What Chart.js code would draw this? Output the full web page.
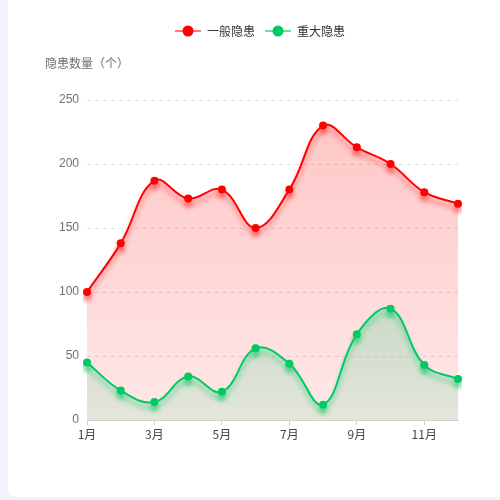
<!DOCTYPE html>
<html>
<head>
<meta charset="utf-8">
<script src="https://cdn.jsdelivr.net/npm/chart.js@4/dist/chart.umd.min.js"></script>
<style>
  html, body { margin: 0; padding: 0; background: #f2f3f8; }
  #card { position: absolute; left: 8px; top: 0; width: 492px; height: 497px; background: #fff; border-radius: 0 0 0 8px; }
</style>
</head>
<body>
<div id="card"><canvas id="canvas" width="492" height="497"></canvas></div>
<script>
// data
var months = ['1月','2月','3月','4月','5月','6月','7月','8月','9月','10月','11月','12月'];
var normal = [100, 138, 187, 173, 180, 150, 180, 230, 213, 200, 178, 169];
var major = [45, 23, 14, 34, 22, 56, 44, 12, 67, 87, 43, 32];
var yTitle = '隐患数量（个）';

// little legend icons: line with a dot
function legendIcon(lineColor, dotColor) {
    var c = document.createElement('canvas');
    c.width = 26; c.height = 12;
    var g = c.getContext('2d');
    g.strokeStyle = lineColor;
    g.lineWidth = 2;
    g.beginPath(); g.moveTo(0, 6); g.lineTo(26, 6); g.stroke();
    g.fillStyle = dotColor;
    g.beginPath(); g.arc(13, 6, 5.5, 0, Math.PI * 2); g.fill();
    return c;
}
var icons = [legendIcon('#ff7a7a', '#ff0000'), legendIcon('#6ddca0', '#00c864')];

// gradient from the top of a series down to the x axis
function gradient(ctx, values, top, bottom) {
    var chart = ctx.chart, area = chart.chartArea;
    if (!area || !chart.scales.y) return top;
    var y0 = chart.scales.y.getPixelForValue(Math.max.apply(null, values));
    var g = chart.ctx.createLinearGradient(0, y0, 0, area.bottom);
    g.addColorStop(0, top);
    g.addColorStop(1, bottom);
    return g;
}

var shadowColors = ['rgba(255,40,40,0.6)', 'rgba(0,200,100,0.65)'];

const shadowPlugin = {
    id: 'lineShadow',
    beforeDatasetDraw: function (chart, args) {
        var ctx = chart.ctx;
        ctx.save();
        ctx.shadowColor = shadowColors[args.index];
        ctx.shadowBlur = 5;
        ctx.shadowOffsetY = 5;
    },
    afterDatasetDraw: function (chart) {
        chart.ctx.restore();
    }
};

const yTitlePlugin = {
    id: 'yTitle',
    afterLayout: function (chart) {
        // nudge legend a bit to the right like the original
        chart.legend.left += 27;
        chart.legend.right += 27;
    },
    afterDraw: function (chart) {
        var ctx = chart.ctx, a = chart.chartArea;
        ctx.save();
        ctx.font = '12px "Noto Sans CJK SC", sans-serif';
        ctx.fillStyle = '#6e7079';
        ctx.textAlign = 'left';
        ctx.textBaseline = 'middle';
        ctx.fillText(yTitle, a.left - 42, a.top - 37);
        ctx.restore();
    }
};

const ctx = document.getElementById('canvas');

new Chart(ctx, {
    type: 'line',
    data: {
        labels: months,
        datasets: [{
            label: '一般隐患',
            data: normal,
            borderColor: '#ff0000',
            backgroundColor: function (c) { return gradient(c, normal, 'rgba(255,0,0,0.22)', 'rgba(255,0,0,0.09)'); },
            pointBackgroundColor: '#ff0000',
            fill: 'origin',
            order: 1
        }, {
            label: '重大隐患',
            data: major,
            borderColor: '#00c864',
            backgroundColor: function (c) { return gradient(c, major, 'rgba(80,215,150,0.3)', 'rgba(80,215,150,0.15)'); },
            pointBackgroundColor: '#00c864',
            fill: 'origin',
            order: 0
        }]
    },
    options: {
        responsive: false,
        animation: false,
        devicePixelRatio: 1,
        layout: { padding: { left: 0, right: 42, top: 15, bottom: 52 } },
        elements: {
            line: { tension: 0.4, borderWidth: 2 },
            point: { radius: 4, borderWidth: 0, hoverRadius: 4 }
        },
        plugins: {
            tooltip: { enabled: false },
            // empty title used as spacer under the legend
            title: {
                display: true,
                text: '',
                weight: 0,
                padding: 0,
                font: { size: 12, lineHeight: '53px' }
            },
            legend: {
                position: 'top',
                labels: {
                    usePointStyle: true,
                    pointStyleWidth: 26,
                    boxHeight: 12,
                    padding: 10,
                    color: '#333',
                    font: { size: 12, family: '"Noto Sans CJK SC", sans-serif' },
                    sort: function (a, b) { return a.datasetIndex - b.datasetIndex; },
                    generateLabels: function (chart) {
                        var items = Chart.defaults.plugins.legend.labels.generateLabels(chart);
                        items.forEach(function (it) { it.pointStyle = icons[it.datasetIndex]; });
                        return items;
                    }
                }
            }
        },
        scales: {
            x: {
                afterFit: function (s) { s.height = 25; },
                border: { color: '#d0d0d0' },
                grid: {
                    drawOnChartArea: false,
                    tickLength: 5,
                    color: function (c) { return c.index % 2 === 0 ? '#d0d0d0' : 'rgba(0,0,0,0)'; }
                },
                ticks: {
                    autoSkip: false,
                    maxRotation: 0,
                    padding: 2,
                    color: '#444',
                    font: { size: 12, family: '"Noto Sans CJK SC", sans-serif' },
                    callback: function (v, i) { return i % 2 === 0 ? months[i] : ''; }
                }
            },
            y: {
                min: 0,
                max: 250,
                afterFit: function (s) { s.width = 79; },
                border: { display: false, dash: [4, 4] },
                grid: { color: '#e3e3e3', drawTicks: false },
                ticks: {
                    stepSize: 50,
                    padding: 8,
                    color: '#6e7079',
                    font: { size: 12 }
                }
            }
        }
    },
    plugins: [shadowPlugin, yTitlePlugin]
});
</script>
</body>
</html>
